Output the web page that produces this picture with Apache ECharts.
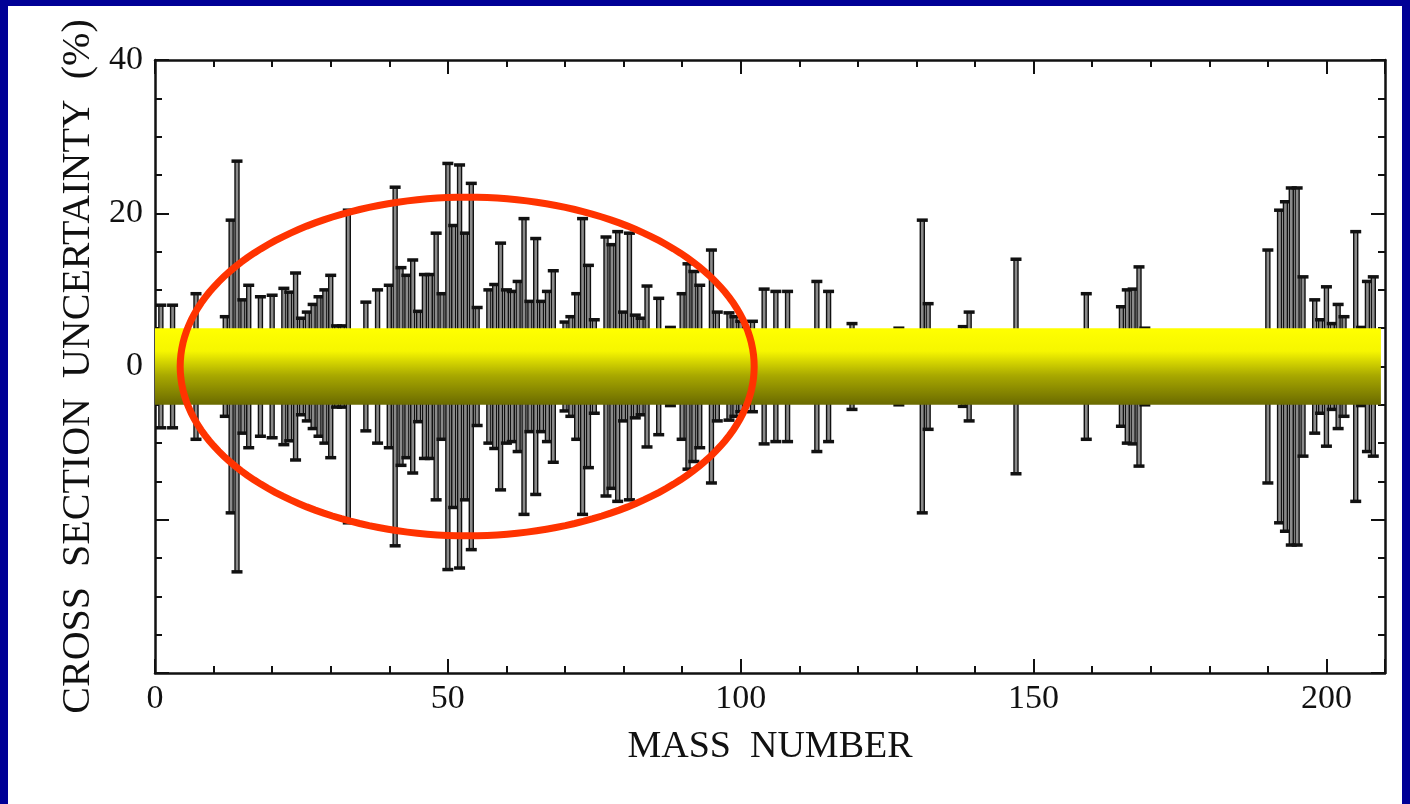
<!DOCTYPE html>
<html>
<head>
<meta charset="utf-8">
<script src="https://cdn.jsdelivr.net/npm/echarts@6/dist/echarts.min.js"></script>
<style>
  html, body { margin: 0; padding: 0; background: #000096; }
  #sheet { position: absolute; left: 8px; top: 6px; width: 1394px; height: 798px; background: #fff; }
  #main { position: absolute; left: 0; top: 0; width: 1410px; height: 804px; }
</style>
</head>
<body>
<div id="sheet"></div>
<div id="main"></div>
<script>
// mass number and cross section uncertainty (%)
var massNumbers = [1, 3, 7, 12, 13, 14, 15, 16, 18, 20, 22, 23, 24, 25, 26, 27, 28, 29, 30, 31, 32, 33, 36, 38, 40,
  41, 42, 43, 44, 45, 46, 47, 48, 49, 50, 51, 52, 53, 54, 55, 57, 58, 59, 60, 61, 62, 63, 64, 65, 66, 67, 68,
  70, 71, 72, 73, 74, 75, 77, 78, 79, 80, 81, 82, 83, 84, 86, 88, 90, 91, 92, 93, 95, 96, 98, 99, 100,
  102, 104, 106, 108, 113, 115, 119, 127, 131, 132, 138, 139, 147, 159, 165, 166, 167, 168, 169,
  190, 192, 193, 194, 195, 196, 198, 199, 200, 201, 202, 203, 205, 206, 207, 208];
var uncertainties = [8.0, 8.0, 9.5, 6.5, 19.1, 26.8, 8.7, 10.6, 9.1, 9.3, 10.2, 9.7, 12.2, 6.3, 7.1, 8.1, 9.1, 10.0, 11.9, 5.3, 5.3, 20.4, 8.4, 10.0, 10.6,
  23.4, 12.9, 11.9, 13.9, 7.2, 12.0, 12.0, 17.4, 9.5, 26.5, 18.4, 26.3, 17.4, 23.9, 7.7, 10.0, 10.7, 16.1, 10.0, 9.8, 11.1, 19.3, 8.5, 16.7, 8.5, 9.8, 12.5,
  5.8, 6.5, 9.5, 19.3, 13.2, 6.1, 16.9, 15.9, 17.6, 7.1, 17.4, 6.7, 6.3, 10.5, 8.9, 5.1, 9.5, 13.4, 12.4, 10.6, 15.2, 7.1, 7.0, 6.5, 5.9,
  5.9, 10.1, 9.8, 9.8, 11.1, 9.8, 5.6, 5.0, 19.1, 8.2, 5.2, 7.1, 14.0, 9.5, 7.8, 10.0, 10.1, 13.0, 5.0,
  15.2, 20.4, 21.5, 23.3, 23.3, 11.7, 8.7, 6.1, 10.4, 5.6, 8.1, 6.5, 17.6, 5.1, 11.1, 11.7];

// highlighted band and circled region
var bandX = [0, 209.3];
var bandY = [-5, 5];
var ellipseCenter = [53.3, 0];
var ellipseRadius = [49, 22.1];

var xLabels = [0, 50, 100, 150, 200];
var yLabels = [0, 20, 40];

var font = "Liberation Serif";
var myChart = echarts.init(document.getElementById("main"));

var barData = massNumbers.map(function (a, i) { return [a, uncertainties[i]]; });

function axisBase(pos, interval, len, withLine) {
  return {
    type: "value",
    position: pos,
    interval: interval,
    axisLine: { show: withLine, onZero: false, lineStyle: { color: "#111", width: 2.5 } },
    axisTick: { show: true, inside: true, length: len, lineStyle: { color: "#111", width: 2 } },
    splitLine: { show: false },
    axisLabel: { show: false }
  };
}

var xMajor = axisBase("bottom", 50, 14, true);
xMajor.axisLabel = {
  show: true, color: "#111", fontFamily: font, fontSize: 34, margin: 9,
  formatter: function (v) { return xLabels.indexOf(v) >= 0 ? String(v) : ""; }
};
xMajor.name = "MASS  NUMBER";
xMajor.nameLocation = "middle";
xMajor.nameGap = 55;
xMajor.nameTextStyle = { color: "#111", fontFamily: font, fontSize: 38 };

var yMajor = axisBase("left", 20, 14, true);
yMajor.axisLabel = {
  show: true, color: "#111", fontFamily: font, fontSize: 34, margin: 12,
  formatter: function (v) { return yLabels.indexOf(v) >= 0 ? String(v) : ""; }
};
yMajor.name = "CROSS  SECTION  UNCERTAINTY  (%)";
yMajor.nameLocation = "middle";
yMajor.nameGap = 43;
yMajor.nameTextStyle = { color: "#111", fontFamily: font, fontSize: 40 };

var xAxes = [xMajor, axisBase("bottom", 10, 7, false), axisBase("top", 50, 14, true), axisBase("top", 10, 7, false)];
var yAxes = [yMajor, axisBase("left", 5, 7, false), axisBase("right", 20, 14, true), axisBase("right", 5, 7, false)];
xAxes.forEach(function (ax) { ax.min = 0; ax.max = 210; });
yAxes.forEach(function (ax) { ax.min = -40; ax.max = 40; });

myChart.setOption({
  animation: false,
  grid: { left: 155, right: 25, top: 60, bottom: 131 },
  xAxis: xAxes,
  yAxis: yAxes,
  series: [
    {
      type: "custom",
      z: 3,
      data: barData,
      renderItem: function (params, api) {
        var a = api.value(0), v = api.value(1);
        var top = api.coord([a, v]);
        var bot = api.coord([a, -v]);
        var x = top[0];
        return {
          type: "group",
          children: [
            { type: "rect", shape: { x: x - 2, y: top[1], width: 4, height: bot[1] - top[1] },
              style: { fill: "#8a8a8a", stroke: "#111", lineWidth: 1.4 } },
            { type: "line", shape: { x1: x - 5.5, y1: top[1], x2: x + 5.5, y2: top[1] },
              style: { stroke: "#111", lineWidth: 3.5 } },
            { type: "line", shape: { x1: x - 5.5, y1: bot[1], x2: x + 5.5, y2: bot[1] },
              style: { stroke: "#111", lineWidth: 3.5 } }
          ]
        };
      }
    },
    {
      type: "custom",
      z: 5,
      data: [[bandX[0], bandY[1], bandX[1], bandY[0]]],
      renderItem: function (params, api) {
        var p0 = api.coord([api.value(0), api.value(1)]);
        var p1 = api.coord([api.value(2), api.value(3)]);
        return {
          type: "rect",
          shape: { x: p0[0], y: p0[1], width: p1[0] - p0[0], height: p1[1] - p0[1] },
          style: {
            fill: new echarts.graphic.LinearGradient(0, 0, 0, 1, [
              { offset: 0, color: "#ffff00" },
              { offset: 0.3, color: "#f6f600" },
              { offset: 0.62, color: "#a8a800" },
              { offset: 1, color: "#6a6a00" }
            ])
          }
        };
      }
    },
    {
      type: "custom",
      z: 6,
      data: [[ellipseCenter[0], ellipseCenter[1], ellipseRadius[0], ellipseRadius[1]]],
      renderItem: function (params, api) {
        var c = api.coord([api.value(0), api.value(1)]);
        var r = api.size([api.value(2), api.value(3)]);
        var pts = [];
        for (var k = 0; k < 180; k++) {
          var t = k / 180 * Math.PI * 2;
          pts.push([c[0] + r[0] * Math.cos(t), c[1] + r[1] * Math.sin(t)]);
        }
        return {
          type: "polygon",
          shape: { points: pts },
          style: { fill: null, stroke: "#ff3300", lineWidth: 7 }
        };
      }
    }
  ]
});
</script>
</body>
</html>
